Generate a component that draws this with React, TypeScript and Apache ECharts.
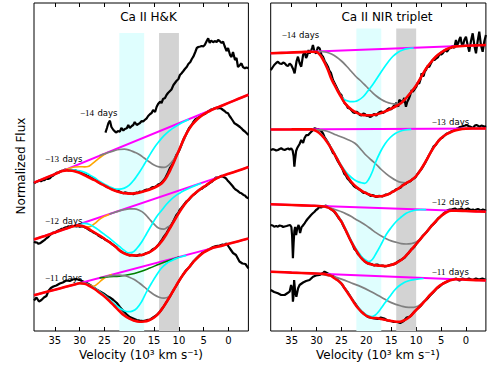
import React, { useEffect, useRef } from 'react';
import * as echarts from 'echarts';

type P = [number, number][];

// ---------- axis / band data ----------
const velocityTicks = [35, 30, 25, 20, 15, 10, 5, 0];
const velocityMin = -4;
const velocityMax = 39.2;
const cyanBand = [22, 17];
const grayBand = [14, 10];
const bandTopLeft = 298;
const bandTopRight = 302.5;

// ---------- Ca II H&K (left panel) ----------
const hk14Black: P = [[24.8,198.3],[24.5,203],[24.2,208],[23.9,210.3],[23.6,204],[23.2,201],[22.9,199.5],[22.6,198.5],[22.3,200],[21.9,199.3],[21.6,203],[21.2,200.5],[20.9,202],[20.5,202.7],[20.2,206],[19.9,203],[19.5,205],[19.2,206],[18.9,209],[18.5,206],[18.2,207],[17.9,207.7],[17.5,210],[17.2,209.5],[16.9,211],[16.5,212.7],[16.2,215],[15.8,217],[15.5,218],[15.2,221],[14.8,219],[14.5,224],[14.2,227],[13.8,229.3],[13.5,228],[13.2,232],[12.8,233],[12.5,236],[12.2,238],[11.8,240],[11.5,241.5],[11.1,246],[10.8,248],[10.5,250],[10.1,252],[9.8,256],[9.5,257.5],[9.1,260],[8.8,262],[8.4,264.3],[8.1,267],[7.7,269],[7.4,272],[7.1,274.3],[6.7,279],[6.4,283],[6.1,284],[5.7,284.5],[5.4,285],[5.1,284.7],[4.8,286],[4.4,290],[4.1,292.7],[3.8,288],[3.5,290.5],[3.1,288.7],[2.8,290],[2.4,289],[2.1,291],[1.8,290],[1.4,288],[1.1,289.3],[0.8,285],[0.4,280],[0.1,283],[-0.3,276],[-0.6,274],[-0.9,279],[-1.3,271],[-1.6,273],[-1.9,264],[-2.3,266],[-2.6,267.7],[-2.9,264],[-3.3,262.7],[-3.6,263.5],[-4,262.7]];

const hk13Black: P = [[39.2,147.7],[38.8,149],[38.5,149.5],[38.1,150.5],[37.8,149.8],[37.4,151],[37.1,150.8],[36.7,152.6],[36.4,152],[36,152.7],[35.7,154.5],[35.3,155.5],[35,156.8],[34.6,158.5],[34.3,158],[34,159.3],[33.6,160.2],[33.3,160.5],[32.9,161.5],[32.6,161.2],[32.3,160.6],[32,161],[31.6,160.8],[31.3,160.2],[30.9,160.8],[30.6,160],[30.3,159.8],[30,159.3],[29.6,158],[29.2,156.8],[28.9,156.5],[28.6,155.5],[28.2,155],[27.9,154.3],[27.5,153],[27.2,152],[26.9,151.2],[26.5,150.5],[26.2,148.8],[25.9,147.7],[25.5,147.2],[25.2,146.5],[24.9,145],[24.5,144.2],[24.2,143.5],[23.9,142.7],[23.5,142],[23.2,141.5],[22.9,140.5],[22.5,139.8],[22.2,140],[21.9,139.3],[21.5,138.2],[21.2,137.8],[20.9,138.6],[20.5,138.2],[20.2,137.5],[19.9,137.7],[19.5,137.2],[19.2,136.8],[18.9,137.5],[18.5,138.4],[18.2,138],[17.9,139.3],[17.5,139],[17.2,139.8],[16.9,140.8],[16.5,141.5],[16.2,141.2],[15.8,142.2],[15.5,143.5],[15.2,144],[14.8,144.2],[14.5,145],[14.2,146.5],[13.8,147.2],[13.5,148.5],[13.2,150],[12.8,152.5],[12.5,155.5],[12.2,158.5],[11.8,163],[11.5,165],[11.2,168],[10.8,172.5],[10.5,176],[10.2,178],[9.9,181],[9.5,186],[9.2,190],[8.9,193.5],[8.6,196],[8.3,199.5],[8,202.5],[7.7,204.5],[7.4,206.3],[7.1,209],[6.7,211.5],[6.4,212.5],[6,213.5],[5.7,215.5],[5.4,216.8],[5.1,216.5],[4.8,217],[4.4,218.5],[4.1,219.8],[3.8,220.5],[3.5,221.5],[3.1,222],[2.8,222.7],[2.5,223.2],[2.2,222.5],[1.8,223],[1.5,222.5],[1.1,221],[0.8,220],[0.5,218.5],[0.1,217.7],[-0.2,215],[-0.5,213],[-0.9,210],[-1.2,207.7],[-1.6,206.5],[-1.9,205.5],[-2.3,204],[-2.6,202.7],[-2.9,201],[-3.3,199.5],[-3.6,198],[-4,196]];
const hk13Cont: P = [[39.2,148.4],[-4,236.2]];
const hk13Fit: P = [[39.2,148.4],[37,152.8],[35,156.9],[33.5,159.9],[32.5,160.6],[31.5,160.3],[30.5,159],[29.5,157],[28.5,154.5],[27.5,152],[26.5,149.5],[25.5,146.7],[24.5,144],[23.5,141.5],[22.5,139.7],[21.5,138.3],[20.5,137.6],[19.5,137.4],[18.5,137.9],[17.5,139],[16.5,140.5],[15.5,142.3],[14.5,144.5],[13.5,147.5],[12.8,151.5],[12.2,156.5],[11.6,162.5],[11,169],[10.4,176],[9.8,183],[9.2,190],[8.6,196.3],[8,201.5],[7.3,206.5],[6.5,210.8],[5.7,214.2],[4.8,217.3],[4,219.5],[3,222],[2,224],[0,228.1],[-2,232.2],[-4,236.2]];
const hk13Cyan: P = [[34,158.9],[33,160.7],[32,161.5],[31,161],[30,160.1],[29,158.6],[28,156.1],[27,153.2],[26,149.7],[25,146.7],[24,144.3],[23,142.3],[22,141.8],[21,142.9],[20,145.9],[19,151.4],[18,158.5],[17,166.5],[16,175],[15,183.1],[14,189.6],[13,195.3],[12,199.9],[11,203.5],[10,206.6],[9,209.3],[8,211.6]];
const hk13Gray: P = [[26,175.2],[25,177.1],[24,178.9],[23,180.4],[22,181.5],[21,181.9],[20,180.9],[19,178.9],[18,176.5],[17,173],[16,169.3],[15,166.1],[14,164.1],[13,163.6],[12,166.2],[11,171.7],[10,180.5],[9,190.5],[8,201.8],[7,208.3],[6,213.3],[5,216.8],[4,219.7],[3,222]];
const hk13Orange: P = [[33,160.9],[32,162.7],[31,164],[30,164.3],[29,164.1],[28.3,164.5],[27.5,167.2],[26.5,171.2],[25.5,175],[24.5,178]];

const hk12Black: P = [[39.2,89.3],[38.9,88.6],[38.6,88.5],[38.3,87.2],[38,87.7],[37.5,89.5],[37.1,90.8],[36.7,92.7],[36.3,94.2],[36,96],[35.6,97.4],[35.3,98.5],[35,98.2],[34.7,99.5],[34.3,100.6],[34,101],[33.6,102.2],[33.3,102.5],[32.9,103.6],[32.6,103.5],[32.3,104.6],[32,104.3],[31.6,105.3],[31.3,105],[30.9,104.8],[30.6,104.5],[30.3,105],[30,104.3],[29.6,104.6],[29.3,104.5],[28.9,103.5],[28.6,102.8],[28.2,101.4],[27.9,100.5],[27.5,99.6],[27.2,98.5],[26.8,97.5],[26.5,96.8],[26.2,95.2],[25.9,94.5],[25.5,93.2],[25.2,92.7],[24.8,91.1],[24.5,90.5],[24.1,89.2],[23.8,88.5],[23.5,87],[23.2,86],[22.8,84.6],[22.5,83.3],[22.2,81.6],[21.9,80.2],[21.5,79.3],[21.2,78],[20.8,77.6],[20.5,77],[20.2,76.2],[19.9,75.5],[19.5,76.2],[19.2,75.8],[18.8,75.3],[18.5,75],[18.2,76],[17.9,76.5],[17.5,75.8],[17.2,76.3],[16.8,77.4],[16.5,78],[16.1,78.5],[15.8,79.3],[15.5,80.8],[15.2,82],[14.8,82.8],[14.5,84.2],[14.1,86.5],[13.8,88.5],[13.5,90.5],[13.2,93],[12.8,95.8],[12.5,98],[12.1,101.5],[11.8,104.5],[11.5,106.4],[11.2,109],[10.8,113],[10.5,116],[10.1,118.3],[9.8,121.5],[9.5,123],[9.2,125],[8.8,127.6],[8.5,129.5],[8.1,130.8],[7.8,132.5],[7.4,134.8],[7.1,136.2],[6.8,137],[6.5,138.5],[6.1,140.4],[5.8,141.5],[5.4,142.2],[5.1,143.5],[4.8,144.4],[4.5,145.2],[4.1,147],[3.8,148],[3.4,149.1],[3.1,150.5],[2.8,152.4],[2.5,153.5],[2.1,153.5],[1.8,154],[1.5,155.2],[1.2,154.5],[0.8,153.6],[0.5,152.5],[0.2,150.6],[-0.1,149],[-0.5,146.8],[-0.8,145],[-1.1,143],[-1.4,141.5],[-1.7,140.6],[-2,139.5],[-2.3,138.2],[-2.6,137.7],[-3,136.1],[-3.3,135.5],[-3.6,133.8],[-4,132.7]];
const hk12Cont: P = [[39.2,91.5],[-4,163.9]];
const hk12Fit: P = [[39.2,91.5],[37,95.1],[35,98.5],[33,101.9],[31.5,104.4],[30.5,105.6],[29.5,105],[28.5,103],[27.5,100],[26.5,97],[25.5,94],[24.5,90.5],[23.5,87],[22.5,83],[21.5,78.8],[20.5,76.5],[19.5,75.6],[18.5,75.5],[17.5,76.1],[16.5,77.6],[15.5,80],[14.5,84],[13.5,89.5],[12.5,97],[11.5,105.5],[10.5,114],[9.5,122],[8.5,128.7],[7.5,134.3],[6.5,138.8],[5.5,142.5],[4.5,145.8],[3.5,149.3],[2.5,152.3],[1.5,154.6],[0,157.2],[-2,160.5],[-4,163.9]];
const hk12Cyan: P = [[31,105.2],[30,107],[29,107.6],[28,106.5],[27,103.8],[26,100.3],[25,96.6],[24,92.8],[23,88.7],[22,84.6],[21,80.6],[20.2,78.2],[19.4,78.6],[18.5,82.5],[17.5,89],[16.5,97.5],[15.5,106],[14.5,114.3],[13.5,120.5],[12.5,126.7],[11.5,131.9],[10.5,135.9],[9.5,138.9],[8.5,141.5],[7.5,143.8],[6.5,145.9],[5.5,147.8]];
const hk12Gray: P = [[24,116.9],[23,118.5],[22,120.1],[21,121.3],[20,122.1],[19,122.1],[18,120.7],[17,117.7],[16,112.3],[15,106.8],[14,102.7],[13,101.9],[12.2,104.2],[11.5,106],[11,110.1],[10.5,114.3],[10,118.3],[9.5,122.3],[9,125.6],[8.5,129],[8,131.8],[7,136.6],[6,140.9],[5,144.3],[4,147.6],[3,150.8],[2,153.8]];
const hk12Orange: P = [[32,103.5],[31,104.9],[30,105.4],[29,104.6],[28,104.2],[27,107.4],[26,111.6],[25,114.6],[24,116.8]];

const hk11Black: P = [[39.2,30.5],[38.7,33.5],[38.2,29.5],[37.7,31],[37.2,33.5],[36.7,35],[36.3,40],[35.8,43],[35.3,44.5],[34.7,45.5],[34,47.5],[33.4,48.5],[32.7,50.5],[32,50],[31.4,51.5],[30.7,52],[30,51],[29.3,49.5],[28.6,48],[27.9,46],[27.2,43.5],[26.6,41.5],[25.9,39.5],[25.2,37.5],[24.5,35],[23.9,33.5],[23.2,31],[22.5,28],[21.9,24],[21.2,20],[20.5,16.5],[19.9,14],[19.2,12.5],[18.5,11],[17.9,10.5],[17.2,10],[16.5,10.8],[15.8,11.5],[15.2,13.5],[14.5,15.8],[13.8,19.5],[13.2,23.5],[12.5,29],[11.8,34.5],[11.2,40],[10.5,45.5],[9.8,51.5],[9.2,56],[8.5,61],[7.8,64.5],[7.1,69.5],[6.5,72.5],[5.8,76],[5.1,79],[4.5,80.5],[3.8,82],[3.1,84],[2.5,85],[1.8,85.5],[1.2,86.5],[0.8,86],[0.4,87.5],[-0.2,83],[-0.9,78],[-1.5,76],[-2.2,69.5],[-2.8,67.5],[-3.4,67],[-4,62.7]];
const hk11Cont: P = [[39.2,35.8],[-4,92.4]];
const hk11Fit: P = [[39.2,35.8],[37,38.7],[35,41.3],[33,43.9],[31,46.5],[30,47.7],[29,47.2],[28,45],[27,42],[26,38.3],[25,34.5],[24,30],[23,25],[22,20],[21,15.5],[20,12.5],[19,10.3],[18,9.3],[17,9.5],[16,10.8],[15,13.5],[14,18.2],[13,25],[12,33],[11,41.5],[10,50],[9,57.5],[8,63.5],[7,69.5],[6,74.5],[5,78.5],[4,81.3],[3,83.5],[2,84.5],[0,87.2],[-2,89.8],[-4,92.4]];
const hk11Cyan: P = [[31,46.5],[30,47.7],[29,47.6],[28,45.8],[27,43],[26,39.5],[25,35.8],[24,31.5],[23,27],[22,23.2],[21,20.3],[20.2,19.3],[19.4,19.9],[18.5,22.7],[17.5,29.5],[16.5,39.3],[15.5,48],[14.5,56],[13.5,63],[12.5,67.5],[11.5,70.3],[10.5,72.6],[9.5,74.3],[8.5,75.6]];
const hk11Gray: P = [[25,54.1],[24,55.1],[23,55.7],[22,55.9],[21,55.3],[20,53.8],[19,51.4],[18,48],[17,44.1],[16,39.9],[15,36.2],[14,33.8],[13,32.8],[12.5,33.3],[12,34.4],[11,41.8],[10,50.3],[9,57.8],[8,63.8],[7,69.8],[6,74.8],[5,78.8],[4,81.6],[3,83.8]];
const hk11Orange: P = [[31,46.4],[30,47.6],[29,47.4],[28,46],[27.2,44.8],[26.3,47.7],[25.3,52],[24.3,54.8],[23.5,56.4]];
const hk11Green: P = [[26,53.1],[24,54.2],[22,54.8],[20,56.5],[18,59.1],[16,62.7],[14,66.8],[12,70.6],[10,74.1]];

// ---------- Ca II NIR triplet (right panel) ----------
const nir14Black: P = [[39.2,261],[38.9,263],[38.5,266],[38.1,268],[37.75,269.3],[37.4,267.5],[37,267],[36.7,268.5],[36.4,267.7],[36,265.5],[35.7,265],[35.4,267.5],[35.08,266],[34.7,262],[34.4,257.7],[34.2,264],[34,270],[33.73,274.3],[33.4,268],[33.07,264.3],[32.7,276],[32.39,279.3],[32.1,273],[31.9,275],[31.6,281],[31.39,277.7],[31.1,280],[30.9,283],[30.72,286],[30.4,279],[30.06,277.7],[29.9,281],[29.72,284],[29.38,282.7],[29,276],[28.71,274.3],[28.37,270],[28,267],[27.71,264.3],[27.4,260],[27.1,258],[26.7,251],[26.37,247.7],[26,244],[25.7,241],[25.36,237.7],[25,236],[24.8,233],[24.36,227.7],[24,226],[23.7,223],[23.3,222.5],[23.03,221],[22.6,218.5],[22.3,218],[22,219.5],[21.69,218.3],[21.3,216],[21,215.5],[20.6,217.5],[20.3,217],[19.9,215],[19.62,216],[19.3,214],[19,214.5],[18.7,216],[18.4,217],[18,215.5],[17.67,217.7],[17.3,219],[17,219.5],[16.6,218],[16.27,219.3],[15.8,221.5],[15.4,222.7],[15,221.5],[14.7,224],[14.3,226],[14,228],[13.8,226],[13.59,224.3],[13.39,231],[13.1,230],[12.71,229],[12.4,233],[12.05,224.3],[11.8,229],[11.5,232],[11.2,236],[10.9,241],[10.7,239.3],[10.4,241],[10,244],[9.7,248],[9.38,247.7],[9.1,252],[8.9,257.7],[8.7,255],[8.5,255],[8.3,259],[8.03,261],[7.7,265],[7.4,264],[7.1,267],[6.69,271],[6.3,271],[6,272.5],[5.6,274],[5.3,277],[5,276.5],[4.68,277.7],[4.22,281],[3.8,279.5],[3.35,282.7],[3,283],[2.7,285],[2.35,283],[2.01,291],[1.8,286],[1.55,287.7],[1.3,292],[1.1,294],[0.9,288],[0.66,284.3],[0.33,291],[0,294.3],[-0.33,286],[-0.66,279.3],[-1,290],[-1.35,297.7],[-1.7,285],[-2.01,277.7],[-2.35,290],[-2.67,299.3],[-3,286],[-3.35,279.3],[-3.7,290],[-4,296]];
const nir14Cont: P = [[39.2,277.7],[-4,286]];
const nir14Fit: P = [[39.2,277.7],[36,278.3],[33,278.9],[31,279.3],[30,279],[29.5,277.2],[29,274],[28.4,268.5],[27.7,261],[27.1,253],[26.4,246],[25.7,239.5],[25,233.5],[24.4,228.5],[23.7,224.5],[23,221.5],[22,218.3],[21,216.3],[20,215.8],[19,215.8],[18,216.5],[17,218],[16,220],[15,222.3],[14,225],[13,228],[12,233],[11,239],[10,245.5],[9,254],[8,262.5],[7,269],[6,274.5],[5,278.5],[4,281.5],[3,283.5],[2,284.6],[0,285.2],[-2,285.6],[-4,286]];
const nir14Cyan: P = [[31,279.3],[30,279.2],[29.5,277.5],[29,274.5],[28.4,269],[27.7,261.5],[27.1,253.5],[26.4,246.5],[25.7,240],[25,234.5],[24.4,231.5],[23.7,230],[23,229.3],[22.3,229.5],[21.7,230.5],[20.7,234],[19.7,240],[18.7,246.5],[17.7,254],[16.7,261.5],[15.7,268.5],[14.7,274.5],[13.7,278.5],[12.7,281],[11.7,282.3],[10.5,283]];
const nir14Gray: P = [[30,279.3],[29,279.5],[28,278.8],[27,277],[26,274],[25,270],[24,265],[23,259.5],[22,254],[21,249.5],[20,244.5],[19,239.5],[18,235],[17,231.5],[16,229],[15,227.5],[14,227],[13,228.3],[12,233.3],[11,239.3],[10,245.8],[9,254.3],[8,262.8],[7,269.3],[6,274.8],[5,278.8],[4,281.8],[3,283.8],[2,284.9],[0,285.4]];

const nir13Black: P = [[39.2,181],[38.8,181.8],[38.5,181.5],[38.1,180.5],[37.75,181],[37.4,182],[37.1,182.7],[36.7,181.5],[36.4,181],[36,182],[35.7,182.5],[35.4,181.5],[35.08,182.7],[34.8,180.5],[34.6,175],[34.45,164.3],[34.3,172],[34.1,180],[33.9,182.7],[33.7,184.5],[33.4,187],[33.07,191],[32.7,188],[32.4,193],[32.05,196],[31.7,195.8],[31.4,197.5],[31,199.5],[30.7,201],[30.4,202.7],[30.05,202.2],[29.7,202],[29.4,201],[29.05,200],[28.7,197.5],[28.4,194],[28,191],[27.7,188.5],[27.4,186],[27.1,182.5],[26.7,178],[26.4,177],[26,172.5],[25.7,169.5],[25.4,167],[25.1,164.5],[24.8,162],[24.4,157],[24.1,155.5],[23.8,152.5],[23.4,150.5],[23.1,148.5],[22.8,147],[22.5,145],[22.1,143.5],[21.8,142.7],[21.4,141.5],[21.1,140.5],[20.8,139],[20.5,138],[20.1,138.5],[19.8,137],[19.5,136.5],[19.1,135],[18.8,136],[18.5,135.5],[18.1,134.2],[17.8,134],[17.5,135.2],[17.1,135],[16.8,134.5],[16.5,135.2],[16.1,136.5],[15.8,136.5],[15.5,137],[15.1,138],[14.8,139.5],[14.5,139.5],[14.1,141.5],[13.8,142],[13.5,142.5],[13.1,143.5],[12.8,145.5],[12.5,146.5],[12.1,147],[11.8,148.5],[11.5,149],[11.1,150],[10.8,151.5],[10.5,152.5],[10.1,154],[9.8,156.5],[9.5,158.5],[9.1,161],[8.8,163],[8.5,165.5],[8.1,169],[7.8,172],[7.5,175],[7.1,178.5],[6.8,181.5],[6.5,184.5],[6.1,186],[5.8,188],[5.5,190.5],[5.1,192.5],[4.8,193],[4.5,194.5],[4.1,196.5],[3.8,197.5],[3.5,198],[3.1,199],[2.8,200],[2.5,200.5],[2.1,201.5],[1.8,202.5],[1.5,203],[1.2,204],[0.8,204.5],[0.5,205],[0.1,205.5],[-0.1,206],[-0.5,205],[-0.8,204.5],[-1.2,203.5],[-1.5,203.5],[-1.8,205.5],[-2.1,206],[-2.5,205],[-2.8,204.3],[-3.1,205.5],[-3.4,205],[-3.7,204],[-4,205]];
const nir13Cont: P = [[39.2,201.5],[-4,202.5]];
const nir13Fit: P = [[39.2,201.5],[35,201.6],[32,201.7],[31,201.6],[30,199.8],[29,195.8],[28,189.8],[27,182.2],[26,173.3],[25,164.3],[24,156],[23,149],[22,144],[21,140.3],[20,137.7],[19,135.7],[18,134.6],[17,134.8],[16,136],[15,138.3],[14,141.2],[13,144.5],[12,147.8],[11,150.8],[10,155],[9,162],[8,170.3],[7,179.3],[6,187],[5,192.8],[4,196.5],[3,199],[2,200.7],[1,201.8],[0,202.4],[-4,202.5]];
const nir13Cyan: P = [[31,201.7],[30,200.3],[29,196.5],[28,190.5],[27,183],[26,174.3],[25,165.5],[24,158.5],[23,153.5],[22,150],[21,148.2],[20.3,147.7],[19.5,152],[18.7,160.5],[18.2,168],[17.2,179],[16.2,187.5],[15.2,193.5],[14.2,197.5],[13.2,199.8],[12.2,201],[11,201.7]];
const nir13Gray: P = [[30,201.3],[28,200],[26,196],[24,192],[22.3,187.7],[21,181],[20,175.5],[19,171],[18,166.5],[17,161.5],[16,157.2],[15,153.5],[14,150.5],[13,148.6],[12,148.2],[11,151.1],[10,155.3],[9,162.3],[8,170.6],[7,179.6],[6,187.3],[5,193.1],[4,196.8],[3,199.3],[2,201],[1,202]];

const nir12Black: P = [[39.2,106],[38.8,105.5],[38.5,104.3],[38.1,105],[37.75,104.3],[37.4,105.5],[37,105],[36.7,104],[36.4,104.5],[36,105],[35.7,105.5],[35.3,106],[35.05,104],[34.9,95],[34.74,72.7],[34.6,88],[34.45,100],[34.3,104],[34.1,96],[33.9,102],[33.6,106],[33.3,98],[33,104],[32.8,105],[32.4,107.7],[32.1,110],[31.8,112],[31.4,114.3],[31.1,116],[30.8,117.5],[30.4,119.3],[30.1,121],[29.8,122],[29.4,124.3],[29.1,123.5],[28.7,124.3],[28.4,125],[28.1,125.3],[27.7,124.3],[27.4,123],[27,121.5],[26.7,120.5],[26.4,119],[26.1,117],[25.7,114],[25.4,112],[25,109.5],[24.7,106],[24.4,103],[24,99.5],[23.7,96.5],[23.4,93],[23,89],[22.7,86],[22.4,82],[22,80],[21.7,77],[21.4,75.5],[21,73.5],[20.7,71.5],[20.4,70],[20,68.5],[19.7,67.5],[19.4,67.5],[19,67],[18.7,66],[18.4,65.5],[18,66.5],[17.7,66.5],[17.4,65],[17,65.5],[16.7,65.5],[16.3,64.5],[16,64.8],[15.6,65.5],[15.3,66],[15,66.5],[14.6,66.5],[14.3,67],[14,68],[13.6,69.5],[13.3,70.5],[12.9,71.5],[12.6,72.5],[12.3,73.5],[11.9,76],[11.6,77.5],[11.3,79.5],[11,81.5],[10.6,83],[10.3,84.5],[9.9,87.5],[9.6,89.5],[9.3,91],[8.9,93.5],[8.6,95.5],[8.2,97.5],[7.9,99],[7.6,101],[7.2,103.5],[6.9,105.5],[6.5,107],[6.2,108.5],[5.9,110.5],[5.6,112.5],[5.2,114],[4.9,115.5],[4.6,117],[4.2,118.5],[3.9,120],[3.6,121],[3.2,121.5],[2.9,121.5],[2.6,122],[2.2,122.5],[1.9,121.5],[1.6,121.5],[1.2,122],[0.9,122.5],[0.6,121.5],[0.2,121],[-0.1,122],[-0.4,122.5],[-0.8,121.5],[-1.1,121],[-1.4,121.5],[-1.8,120.5],[-2.1,121.5],[-2.4,122],[-2.8,121],[-3.1,120.5],[-3.4,121.5],[-3.7,121],[-4,120]];
const nir12Cont: P = [[39.2,126.7],[-4,119.3]];
const nir12Fit: P = [[39.2,126.7],[35,126],[31,125.3],[29,124.8],[28,124],[27.3,122.5],[26.4,119.3],[25.7,114.5],[25,109.3],[24.3,102.5],[23.7,96],[23,89],[22.3,82.5],[21.6,77],[21,72.8],[20.3,69.5],[19.7,67.7],[19,66.5],[18,65.6],[17,65.2],[16,65],[15,66],[14,68],[13,71],[12,75.5],[11,81],[10,87],[9,92.8],[8,98.5],[7,104.5],[6,110],[5,115],[4,118.5],[3,120.3],[2,120.3],[0,120],[-2,119.6],[-4,119.3]];
const nir12Cyan: P = [[31,125.3],[29,124.8],[28,124.2],[27.3,123],[26.4,120],[25.7,115.3],[25,110.2],[24.3,103.5],[23.7,97.2],[23,90.3],[22.3,84],[21.6,78.7],[21,74.8],[20.3,71.5],[19.5,69.5],[18.8,71.5],[18,78],[17,87],[16,96.5],[15,103.5],[14,109.5],[13,114],[12,117.8],[11,119.8],[10,121],[9,121.3],[8,121.4]];
const nir12Gray: P = [[29,124.5],[28,123.7],[27,122.6],[26,121],[25,119.3],[24,117],[23,114.4],[22,111.3],[21,108.6],[20,105.4],[19,101.7],[18,98.1],[17,94.9],[16,92.2],[15,90.1],[14,88.7],[13,87.4],[12,87],[11,87.4],[10,89],[9,93],[8,98.8],[7,104.8],[6,110.3],[5,115.3],[4,118.8],[3,120.5]];

const nir11Black: P = [[39.2,41],[38.5,39],[37.75,37.7],[37.1,36],[36.4,36],[35.8,38],[35.4,39.3],[35.1,46],[34.85,42],[34.74,29.3],[34.6,36],[34.5,51],[34.3,40],[34.05,34.3],[33.7,42.7],[33.4,46],[32.7,48.5],[32.1,50],[31.4,51],[30.7,54.3],[30.1,55.5],[29.4,56],[28.7,58],[28.4,59.3],[27.7,57.5],[27.1,56],[26.4,54],[25.7,51],[25,47.3],[24.4,43],[23.7,38.5],[23,33],[22.4,28.5],[21.7,23.5],[21,19.5],[20.3,16.5],[19.7,14],[19,13.2],[18.4,12.5],[17.7,12],[17.1,13.5],[16.4,12.5],[15.8,10.5],[15.1,10],[14.5,9],[13.8,9],[13.2,8],[12.5,10],[11.9,13.5],[11.2,14.5],[10.5,18.5],[9.9,21.5],[9.2,24.5],[8.5,29],[7.9,31.5],[7.2,35.5],[6.6,38.5],[5.9,42.5],[5.3,44.5],[4.6,47.5],[3.9,49],[3.3,51],[2.6,51.5],[2,52.5],[1.3,50.5],[0.7,52.5],[0,51.5],[-0.6,52.5],[-1.3,51],[-2,52.5],[-2.6,51.5],[-3.3,52.5],[-4,51]];
const nir11Cont: P = [[39.2,59.3],[-4,50.5]];
const nir11Fit: P = [[39.2,59.3],[35,58.4],[31,57.6],[28.5,57.1],[27.7,56],[27,55],[26.4,52.7],[25.7,50.5],[25,47.5],[24.4,43],[23.7,37.7],[23,32.5],[22.4,27.7],[21.7,23],[21,19.3],[20.3,16.3],[19.7,14.5],[19,13.3],[18.3,13],[17.7,12.8],[17,12],[16.3,11.3],[15.6,10.6],[15,10],[14.3,9.5],[13.6,9.3],[13,9.6],[12.3,10.8],[11.6,13],[10.9,16],[10.3,19.5],[9.6,23],[8.9,26.5],[8.2,30.3],[7.6,34],[6.9,37.5],[6.2,41],[5.6,44],[4.9,46.5],[4.2,48.5],[3.5,50],[2.9,51],[2,51.7],[0,51.3],[-2,50.9],[-4,50.5]];
const nir11Cyan: P = [[31,57.6],[28.5,57.1],[27.7,56.3],[27,55.4],[26.4,53.2],[25.7,51],[25,48],[24.4,43.5],[23.7,38.2],[23,33],[22.4,28.2],[21.7,23.5],[21,20],[20.3,17.2],[19.6,15.2],[18.9,14.3],[18.2,16],[17.6,19],[17,23],[16.3,28],[15.6,32.5],[15,36.5],[14.3,41],[13.6,44.5],[12.9,47],[12.2,49],[11.3,50.5],[10.4,51.3],[9.5,52],[8.5,52.5]];
const nir11Gray: P = [[29,56.7],[27,54.8],[25,51.9],[23,48],[21,44.1],[19,39.2],[17,33.8],[15,28.4],[13,25],[11.5,23.6],[10.5,23.6],[9.6,25],[8.9,27.3],[8.2,30.6],[7.6,34.3],[6.9,37.8],[6.2,41.3],[5.6,44.3],[4.9,46.8],[4.2,48.8],[3.5,50.3],[2.9,51.3]];

// ---------- labels ----------
const panelTitles = ['Ca II H&K', 'Ca II NIR triplet'];
const epochNumbers = ['−14', '−13', '−12', '−11'];
const xAxisTitle = 'Velocity (10³ km s⁻¹)';
const yAxisTitle = 'Normalized Flux';

const C = {
  black: '#000000', red: '#ff0000', magenta: '#ff00ff', cyan: '#00ffff',
  gray: '#808080', orange: '#ffa500', green: '#008000',
};

function line(data: P, color: string, width: number, panel: number, z: number, smooth: boolean | number) {
  return {
    type: 'line', data, xAxisIndex: panel * 2, yAxisIndex: panel,
    showSymbol: false, symbol: 'none', smooth, silent: true, z,
    lineStyle: { color, width }, emphasis: { disabled: true },
  };
}

function bandSeries(panel: number, top: number) {
  return {
    type: 'line', data: [[velocityMax, 0]], xAxisIndex: panel * 2, yAxisIndex: panel,
    showSymbol: false, symbol: 'none', silent: true, z: 1,
    lineStyle: { width: 0, opacity: 0 },
    markArea: {
      silent: true,
      data: [
        [{ xAxis: cyanBand[0], yAxis: 0, itemStyle: { color: '#dffefe' } }, { xAxis: cyanBand[1], yAxis: top }],
        [{ xAxis: grayBand[0], yAxis: 0, itemStyle: { color: '#d3d3d3' } }, { xAxis: grayBand[1], yAxis: top }],
      ],
    },
  };
}

function xAx(panel: number, top: boolean) {
  return {
    type: 'value', gridIndex: panel, min: velocityMin, max: velocityMax, inverse: true,
    position: top ? 'top' : 'bottom',
    axisLine: { show: false },
    splitLine: { show: false },
    axisTick: { show: true, inside: true, length: 4, customValues: velocityTicks, lineStyle: { color: '#000', width: 1 } },
    axisLabel: top ? { show: false } : { show: true, customValues: velocityTicks, fontSize: 10, color: '#000', margin: 4, fontFamily: 'DejaVu Sans' },
  };
}

function dayLabel(x: number, y: number, num: string) {
  return {
    type: 'text', x, y, z: 100,
    style: {
      text: `{n|${num}} {d|days}`,
      align: 'left', verticalAlign: 'middle', fill: '#000',
      rich: {
        n: { fontFamily: 'Liberation Serif', fontSize: 9, fill: '#000' },
        d: { fontFamily: 'DejaVu Sans', fontSize: 8.5, fill: '#000' },
      },
    },
  };
}

function plainText(x: number, y: number, text: string, size: number, rotation = 0) {
  return {
    type: 'text', x, y, rotation, z: 100,
    style: { text, fontSize: size, fontFamily: 'DejaVu Sans', fill: '#000', align: 'center', verticalAlign: 'middle' },
  };
}

export default function App() {
  const ref = useRef<HTMLDivElement>(null);
  useEffect(() => {
    if (!ref.current) return;
    const chart = echarts.init(ref.current, null, { renderer: 'svg' });
    const w = 2.2;
    const option: any = {
      animation: false,
      textStyle: { fontFamily: 'DejaVu Sans' },
      grid: [
        { left: 34, top: 3, width: 214.4, height: 328, show: true, borderColor: '#000', borderWidth: 1, backgroundColor: 'rgba(0,0,0,0)' },
        { left: 270.7, top: 3, width: 215.2, height: 328, show: true, borderColor: '#000', borderWidth: 1, backgroundColor: 'rgba(0,0,0,0)' },
      ],
      xAxis: [xAx(0, false), xAx(0, true), xAx(1, false), xAx(1, true)],
      yAxis: [
        { type: 'value', gridIndex: 0, min: 0, max: 328, show: false },
        { type: 'value', gridIndex: 1, min: 0, max: 328, show: false },
      ],
      series: [
        bandSeries(0, bandTopLeft),
        bandSeries(1, bandTopRight),
        // left panel
        line(hk14Black, C.black, w, 0, 2, false),
        line(hk13Black, C.black, w, 0, 2, false),
        line(hk12Black, C.black, w, 0, 2, false),
        line(hk11Black, C.black, w, 0, 2, false),
        line(hk13Cont, C.magenta, 2, 0, 3, false),
        line(hk12Cont, C.magenta, 2, 0, 3, false),
        line(hk11Cont, C.magenta, 2, 0, 3, false),
        line(hk13Orange, C.orange, 1.6, 0, 4, 0.4),
        line(hk12Orange, C.orange, 1.6, 0, 4, 0.4),
        line(hk11Orange, C.orange, 1.6, 0, 4, 0.4),
        line(hk11Green, C.green, 1.6, 0, 4, 0.4),
        line(hk13Gray, C.gray, 1.7, 0, 5, 0.4),
        line(hk12Gray, C.gray, 1.7, 0, 5, 0.4),
        line(hk11Gray, C.gray, 1.7, 0, 5, 0.4),
        line(hk13Cyan, C.cyan, 1.7, 0, 6, 0.4),
        line(hk12Cyan, C.cyan, 1.7, 0, 6, 0.4),
        line(hk11Cyan, C.cyan, 1.7, 0, 6, 0.4),
        line(hk13Fit, C.red, 2.6, 0, 7, 0.4),
        line(hk12Fit, C.red, 2.6, 0, 7, 0.4),
        line(hk11Fit, C.red, 2.6, 0, 7, 0.4),
        // right panel
        line(nir14Black, C.black, w, 1, 2, false),
        line(nir13Black, C.black, w, 1, 2, false),
        line(nir12Black, C.black, w, 1, 2, false),
        line(nir11Black, C.black, w, 1, 2, false),
        line(nir14Cont, C.magenta, 2, 1, 3, false),
        line(nir13Cont, C.magenta, 2, 1, 3, false),
        line(nir12Cont, C.magenta, 2, 1, 3, false),
        line(nir11Cont, C.magenta, 2, 1, 3, false),
        line(nir14Gray, C.gray, 1.7, 1, 5, 0.4),
        line(nir13Gray, C.gray, 1.7, 1, 5, 0.4),
        line(nir12Gray, C.gray, 1.7, 1, 5, 0.4),
        line(nir11Gray, C.gray, 1.7, 1, 5, 0.4),
        line(nir14Cyan, C.cyan, 1.7, 1, 6, 0.4),
        line(nir13Cyan, C.cyan, 1.7, 1, 6, 0.4),
        line(nir12Cyan, C.cyan, 1.7, 1, 6, 0.4),
        line(nir11Cyan, C.cyan, 1.7, 1, 6, 0.4),
        line(nir14Fit, C.red, 2.6, 1, 7, 0.4),
        line(nir13Fit, C.red, 2.6, 1, 7, 0.4),
        line(nir12Fit, C.red, 2.6, 1, 7, 0.4),
        line(nir11Fit, C.red, 2.6, 1, 7, 0.4),
      ],
      graphic: [
        plainText(148.5, 17, panelTitles[0], 12),
        plainText(387, 17, panelTitles[1], 12),
        plainText(141, 355, xAxisTitle, 12),
        plainText(378, 355, xAxisTitle, 12),
        plainText(21, 166, yAxisTitle, 12, Math.PI / 2),
        dayLabel(80, 113, epochNumbers[0]),
        dayLabel(45, 159, epochNumbers[1]),
        dayLabel(45, 220.7, epochNumbers[2]),
        dayLabel(45, 277.7, epochNumbers[3]),
        dayLabel(281.7, 35, epochNumbers[0]),
        dayLabel(431.7, 121.7, epochNumbers[1]),
        dayLabel(431.7, 202, epochNumbers[2]),
        dayLabel(431.7, 272, epochNumbers[3]),
      ],
    };
    chart.setOption(option);
    return () => chart.dispose();
  }, []);
  return <div ref={ref} style={{ position: 'absolute', left: 0, top: 0, width: 491, height: 368 }} />;
}
